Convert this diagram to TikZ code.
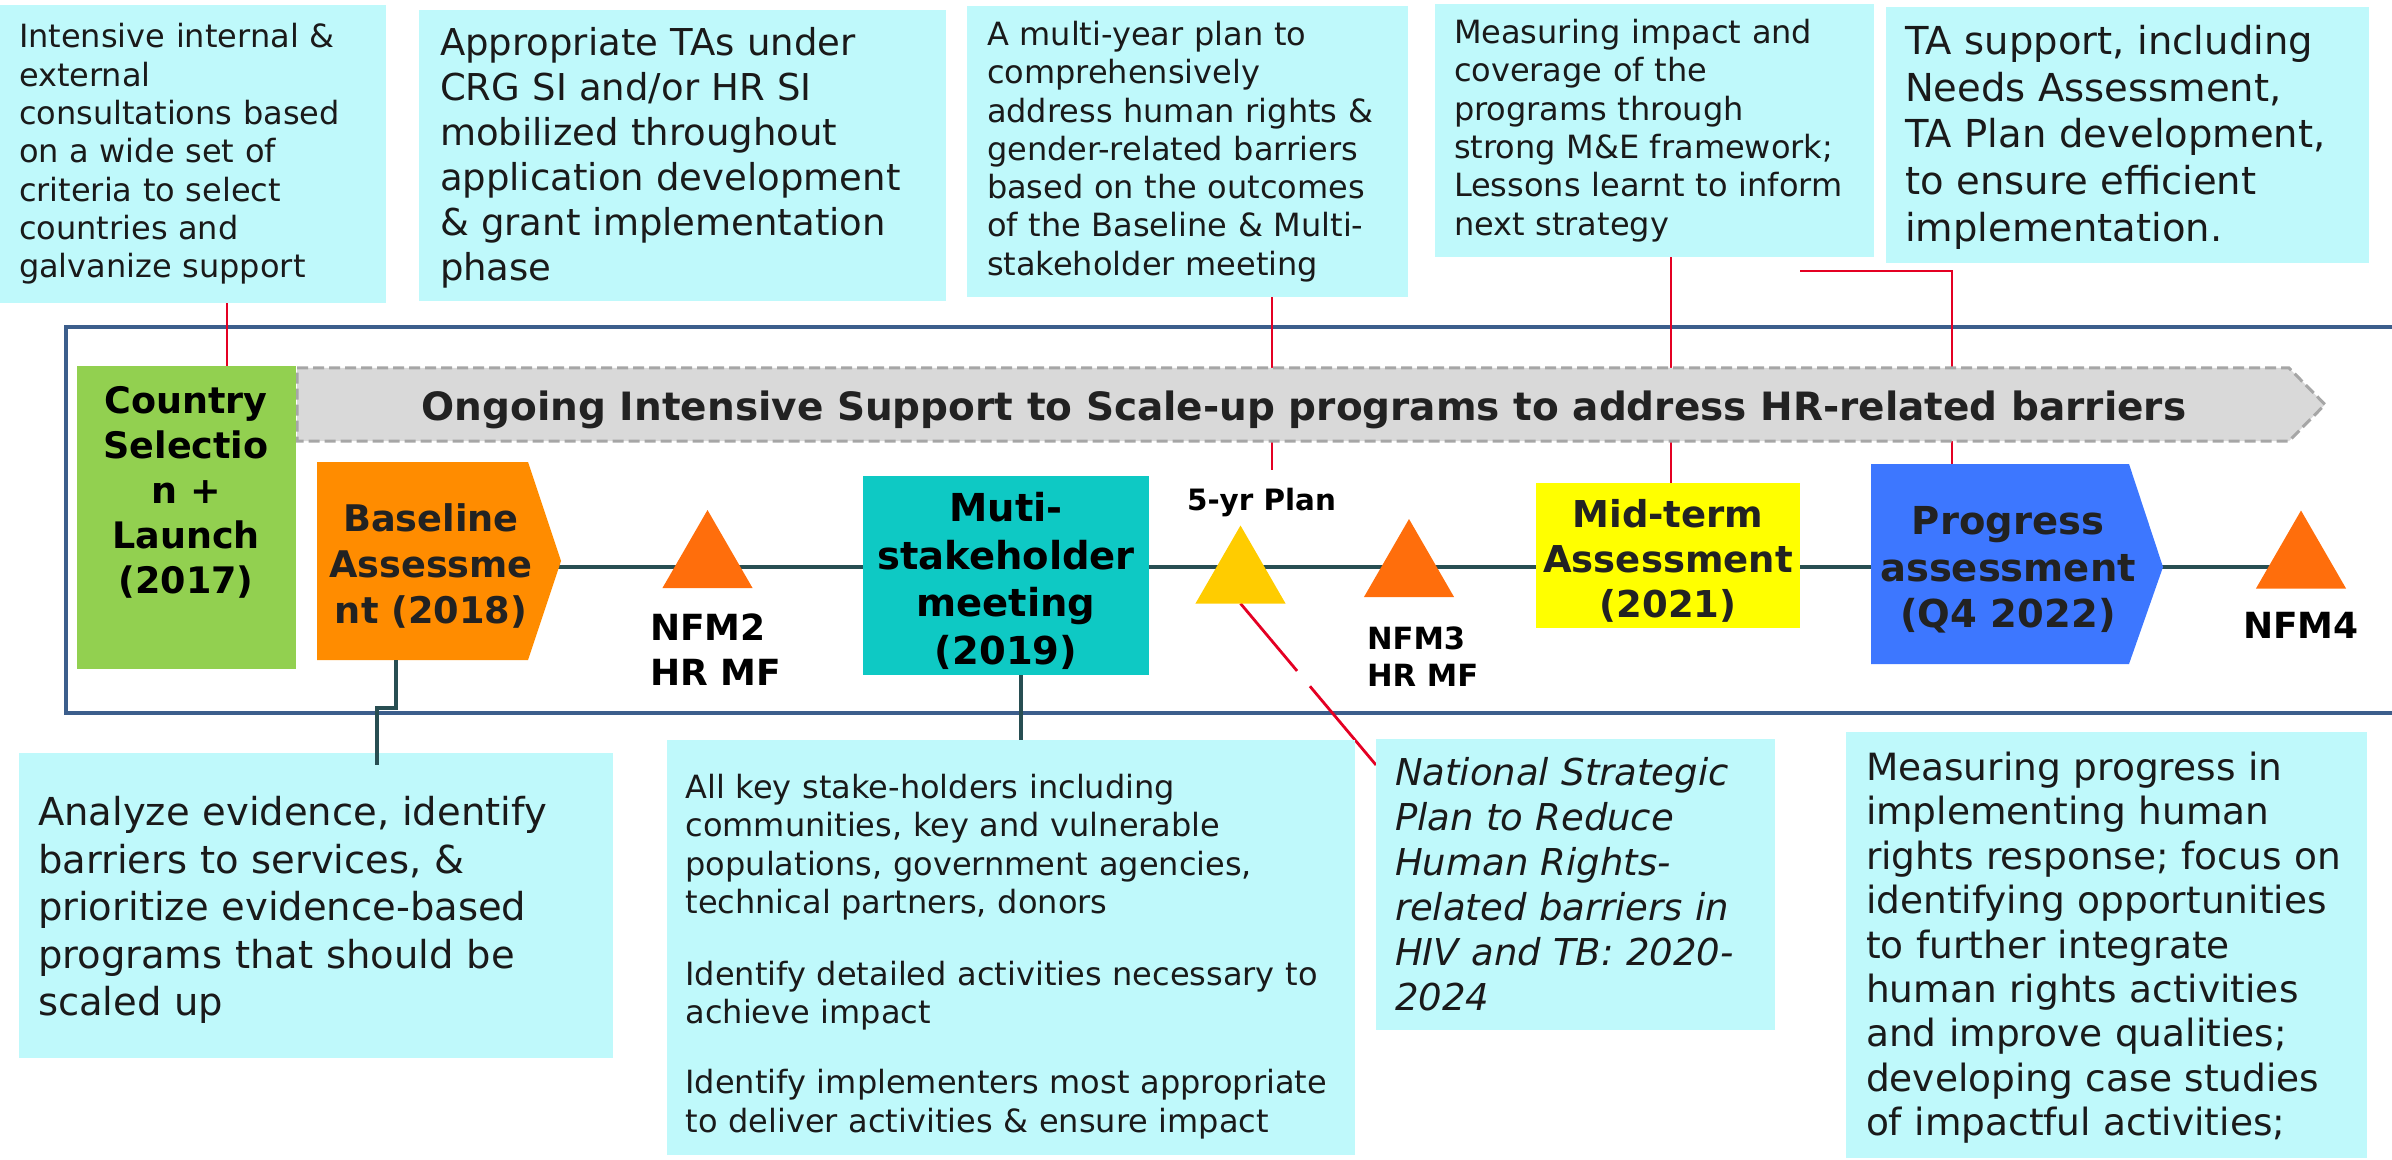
\documentclass[tikz,border=0pt]{standalone}
\usepackage{fontspec}
\setmainfont{DejaVu Sans}
\usetikzlibrary{calc,shapes.geometric}
\pgfdeclarelayer{back}
\pgfdeclarelayer{conn}
\pgfsetlayers{back,conn,main}
\definecolor{cyanbox}{RGB}{191,249,251}
\definecolor{greenbox}{RGB}{146,208,80}
\definecolor{orangebox}{RGB}{255,140,0}
\definecolor{orangetri}{RGB}{255,110,12}
\definecolor{yellowtri}{RGB}{255,204,0}
\definecolor{tealbox}{RGB}{14,201,196}
\definecolor{yellowbox}{RGB}{255,255,0}
\definecolor{bluebox}{RGB}{61,119,255}
\definecolor{bannerfill}{RGB}{217,217,217}
\definecolor{bannerline}{RGB}{166,166,166}
\definecolor{framec}{RGB}{60,94,140}
\definecolor{redc}{RGB}{228,0,35}
\definecolor{tealc}{RGB}{40,78,82}
\definecolor{txt}{RGB}{26,26,26}
\definecolor{dark}{RGB}{34,34,34}
\newcommand\myfsA{\fontsize{16pt}{19.15pt}\selectfont}
\newcommand\myfsB{\fontsize{18.5pt}{22.5pt}\selectfont}
\newcommand\myfsE{\fontsize{19.25pt}{23.35pt}\selectfont}
\newcommand\myfsF{\fontsize{19.25pt}{23.75pt}\selectfont}
\newcommand\myfsI{\fontsize{18.75pt}{22.45pt}\selectfont}
\begin{document}
\begin{tikzpicture}[x=0.5pt,y=-0.5pt,
  every node/.style={inner sep=0pt,outer sep=0pt},
  cbox/.style={fill=cyanbox,inner ysep=0pt,align=left,text=txt},
  blbl/.style={align=center,text=dark},
  redl/.style={draw=redc,line width=1.4pt},
  teall/.style={draw=tealc,line width=1.75pt},
  timel/.style={draw=tealc,line width=2pt},
  tri/.style={regular polygon,regular polygon sides=3,minimum size=52pt,inner sep=0pt},
  boxnode/.style={inner sep=0pt,outer sep=0pt}]
\useasboundingbox (0,0) rectangle (2392,1160);

% ---------- top text boxes ----------
\node[cbox,minimum width=193pt,minimum height=149pt,text width=174pt,inner xsep=9.5pt,font=\myfsA] (tA) at (193,154)
 {Intensive internal \&\\external\\consultations based\\on a wide set of\\criteria to select\\countries and\\galvanize support};
\node[cbox,minimum width=263.5pt,minimum height=145.5pt,text width=242.5pt,inner xsep=10.5pt,font=\myfsB] (tB) at (682.5,155.5)
 {\rule{0pt}{16pt}Appropriate TAs under\\CRG SI and/or HR SI\\mobilized throughout\\application development\\\& grant implementation\\phase};
\node[cbox,minimum width=220.5pt,minimum height=145.5pt,text width=200.5pt,inner xsep=10pt,font=\myfsA] (tC) at (1187.5,151.5)
 {A multi-year plan to\\comprehensively\\address human rights \&\\gender-related barriers\\based on the outcomes\\of the Baseline \& Multi-\\stakeholder meeting};
\node[cbox,minimum width=219.5pt,minimum height=126.5pt,text width=200.5pt,inner xsep=9.5pt,font=\myfsA] (tD) at (1654.5,130.5)
 {Measuring impact and\\coverage of the\\programs through\\strong M\&E framework;\\Lessons learnt to inform\\next strategy};
\node[cbox,minimum width=241.5pt,minimum height=128pt,text width=222.5pt,inner xsep=9.5pt,font=\myfsE] (tE) at (2127.5,135)
 {\rule{0pt}{17pt}TA support, including\\Needs Assessment,\\TA Plan development,\\to ensure efficient\\implementation.};

% ---------- bottom text boxes ----------
\node[cbox,minimum width=297pt,minimum height=152.5pt,text width=278pt,inner xsep=9.5pt,font=\myfsF] (tF) at (316,905.5)
 {\rule{0pt}{19.1pt}Analyze evidence, identify\\barriers to services, \&\\prioritize evidence-based\\programs that should be\\scaled up};
\node[cbox,minimum width=344pt,minimum height=207.5pt,text width=325.5pt,inner xsep=9.25pt,font=\myfsA] (tG) at (1011,947.5)
 {\rule{0pt}{21.2pt}All key stake-holders including\\communities, key and vulnerable\\populations, government agencies,\\technical partners, donors\\[16.85pt]Identify detailed activities necessary to\\achieve impact\\[15.85pt]Identify implementers most appropriate\\to deliver activities \& ensure impact};
\node[cbox,minimum width=199.5pt,minimum height=145.5pt,text width=180.5pt,inner xsep=9.5pt,font=\myfsB\itshape] (tH) at (1575.5,884.5)
 {National Strategic\\Plan to Reduce\\Human Rights-\\related barriers in\\HIV and TB: 2020-\\2024};
\node[cbox,minimum width=260.5pt,minimum height=213pt,text width=240.5pt,inner xsep=10pt,font=\fontsize{18.75pt}{22.2pt}\selectfont] (tI) at (2106.5,945)
 {\rule{0pt}{17pt}Measuring progress in\\implementing human\\rights response; focus on\\identifying opportunities\\to further integrate\\human rights activities\\and improve qualities;\\developing case studies\\of impactful activities;};

% ---------- banner ----------
\filldraw[fill=bannerfill,draw=bannerline,line width=1.5pt,dash pattern=on 5.5pt off 2.5pt]
  (297,368) -- (2289,368) -- (2325,404.5) -- (2289,441) -- (297,441) -- cycle;
\node[text=dark,font=\bfseries\fontsize{19.5pt}{23pt}\selectfont] (bannerlbl) at (1304,410)
 {Ongoing Intensive Support to Scale-up programs to address HR-related barriers};

% ---------- timeline boxes ----------
\node[boxnode,fill=greenbox,minimum width=109.75pt,minimum height=151.5pt] (country) at (186.25,517.5) {};
\node[blbl,text=black,font=\bfseries\fontsize{18.25pt}{22.5pt}\selectfont] (countrylbl) at (186,492)
 {Country\\Selectio\\n +\\Launch\\(2017)};

\node[boxnode,minimum width=105.5pt,minimum height=99pt] (base) at (422.5,561) {};
\fill[orangebox] (base.north west) -- (base.north east) -- (561,561) -- (base.south east) -- (base.south west) -- cycle;
\node[blbl,font=\bfseries\fontsize{18.35pt}{23pt}\selectfont] (baselbl) at (431,566)
 {Baseline\\Assessme\\nt (2018)};

\node[boxnode,fill=tealbox,minimum width=143pt,minimum height=99.5pt] (multi) at (1006,575.5) {};
\node[blbl,text=black,font=\bfseries\fontsize{19.25pt}{23.8pt}\selectfont] (multilbl) at (1006,581)
 {Muti-\\stakeholder\\meeting\\(2019)};

\node[boxnode,fill=yellowbox,minimum width=132pt,minimum height=72.5pt] (mid) at (1668,555.5) {};
\node[blbl,font=\bfseries\fontsize{18.5pt}{22.5pt}\selectfont] (midlbl) at (1668,560.5)
 {Mid-term\\Assessment\\(2021)};

\node[boxnode,minimum width=129pt,minimum height=100pt] (prog) at (2000,564) {};
\fill[bluebox] (prog.north west) -- (prog.north east) -- (2163,567) -- (prog.south east) -- (prog.south west) -- cycle;
\node[blbl,font=\bfseries\fontsize{19.25pt}{23.25pt}\selectfont] (proglbl) at (2008,570)
 {Progress\\assessment\\(Q4 2022)};

% ---------- milestones ----------
\node[tri,fill=orangetri] (nfm2) at (707.5,562) {};
\node[align=left,text=black,font=\bfseries\fontsize{18pt}{22.5pt}\selectfont,anchor=west] (nfm2lbl) at (650,649.5) {NFM2\\HR MF};
\node[tri,fill=yellowtri] (plan) at (1240.5,577.5) {};
\node[text=black,font=\bfseries\fontsize{14.7pt}{18pt}\selectfont] (planlbl) at (1261.5,502.5) {5-yr Plan};
\node[tri,fill=orangetri] (nfm3) at (1409,571) {};
\node[align=left,text=black,font=\bfseries\fontsize{15.3pt}{18.5pt}\selectfont,anchor=west] (nfm3lbl) at (1367,656.5) {NFM3\\HR MF};
\node[tri,fill=orangetri] (nfm4) at (2301,562.5) {};
\node[text=black,font=\bfseries\fontsize{18pt}{22.5pt}\selectfont] (nfm4lbl) at (2301,625) {NFM4};

% ---------- teal connectors to bottom boxes ----------
\draw[teall] ($(base.south west)+(79,0)$) -- ++(0,48) -| ($(tF.north west)+(358,12)$);
\draw[teall] ($(multi.south)+(15,0)$) -- ($(tG.north west)+(354,0)$);

% ---------- frame ----------
\begin{pgfonlayer}{back}
\draw[framec,line width=2.25pt] (2400,327) -- (66,327) -- (66,713) -- (2400,713);
\end{pgfonlayer}

% ---------- connectors behind ----------
\begin{pgfonlayer}{conn}
\coordinate (tl0) at (545,566.5);
\draw[timel] (tl0) -- (nfm4.center |- tl0);
\draw[redl] (227,0 |- tA.south) -- (227,0 |- country.north);
\coordinate (planlead) at (1272,470);
\draw[redl] (planlead |- tC.south) -- (planlead);
\draw[redl,dash pattern=on 44pt off 10pt on 300pt off 1pt] (plan.south) -- ($(tH.north west)+(0,26)$);
\draw[redl] (1671,0 |- tD.south) -- (1671,0 |- mid.north);
\coordinate (tElead) at (1800,271);
\draw[redl] (tElead) -| ($(prog.north west)+(81,0)$);
\end{pgfonlayer}
\end{tikzpicture}
\end{document}
